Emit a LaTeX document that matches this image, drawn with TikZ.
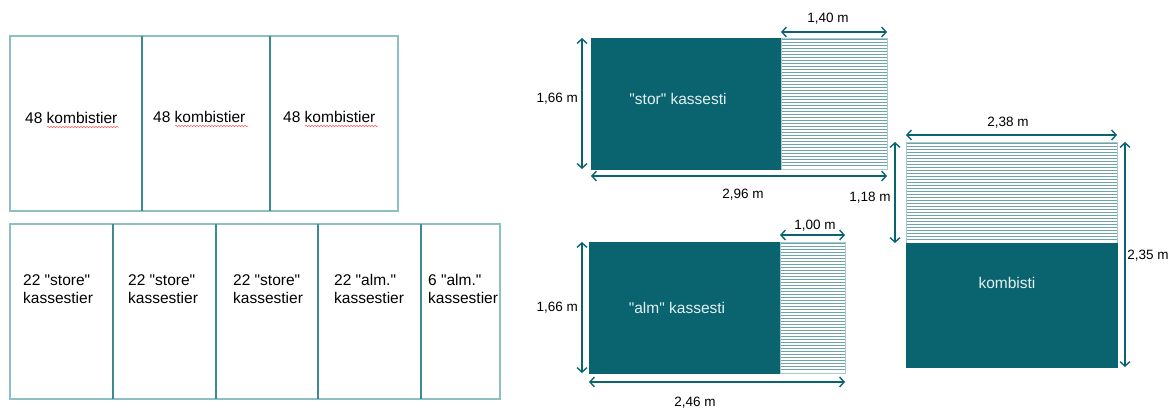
\documentclass[tikz,border=0pt]{standalone}
\usepackage{fontspec}
\setmainfont{Liberation Sans}[Ligatures=TeXOff]
\usetikzlibrary{arrows.meta,decorations.pathmorphing}
\definecolor{kasse}{HTML}{0A6470}
\definecolor{rammelys}{HTML}{8EBFC2}
\definecolor{rammemork}{HTML}{3E8A92}
\definecolor{streg}{HTML}{6FA3AA}
\definecolor{tekstlys}{HTML}{E4F0F1}

\tikzset{
  ramme/.style={draw=rammelys, line width=1.3pt},
  skille/.style={draw=rammemork, line width=1.3pt},
  boxtekst/.style={anchor=west, align=left, inner sep=0pt, font=\fontsize{15.5}{18}\selectfont},
  moerk/.style={fill=kasse, draw=kasse},
  moerktekst/.style={text=tekstlys, inner sep=0pt, font=\fontsize{15.5}{18}\selectfont},
  maal/.style={draw=kasse, line width=1.4pt, {Straight Barb[length=4.5pt,width=10pt]}-{Straight Barb[length=4.5pt,width=10pt]}},
  maaltekst/.style={inner sep=0pt, font=\fontsize{13.5}{16}\selectfont},
  stribe/.style={draw=streg, line width=0.9pt},
  squig/.style={draw=red!65, line width=0.5pt, decorate, decoration={snake, amplitude=0.7pt, segment length=3pt}}
}

\begin{document}
\begin{tikzpicture}[x=1pt,y=-1pt]
  \useasboundingbox (0,0) rectangle (1172,410);

  % kombistier, oeverste raekke
  \draw[ramme] (10,36) rectangle (398,211);
  \draw[skille] (142,36) -- (142,211);
  \draw[skille] (270,36) -- (270,211);
  \node[boxtekst] (kombi1) at (25,118) {48 kombistier};
  \node[boxtekst] (kombi2) at (153,117) {48 kombistier};
  \node[boxtekst] (kombi3) at (283,117) {48 kombistier};
  \draw[squig] (47,127) -- (119,127);
  \draw[squig] (175,126) -- (248,126);
  \draw[squig] (305,126) -- (378,126);

  % kassestier, nederste raekke
  \draw[ramme] (10,224) rectangle (500,399);
  \foreach \x in {113,216,318,421}
    \draw[skille] (\x,224) -- (\x,399);
  \node[boxtekst] (kasse1) at (23,289) {22 "store"\\kassestier};
  \node[boxtekst] (kasse2) at (128,289) {22 "store"\\kassestier};
  \node[boxtekst] (kasse3) at (233,289) {22 "store"\\kassestier};
  \node[boxtekst] (kasse4) at (334,289) {22 "alm."\\kassestier};
  \node[boxtekst] (kasse5) at (428,289) {6 "alm."\\kassestier};

  % "stor" kassesti
  \draw[moerk] (591,38) rectangle (781,169);
  \fill[white] (781,38) rectangle (887,169);
  \foreach \y in {39.5,42.5,...,168}
    \draw[stribe] (781,\y) -- (887,\y);
  \draw[draw=streg!60, line width=0.6pt] (781,38) rectangle (887,169);
  \node[moerktekst] (stor) at (678,99) {"stor" kassesti};
  \coordinate (s1) at (781,32);  \coordinate (s2) at (887,32);
  \coordinate (s3) at (582,38);  \coordinate (s4) at (582,169);
  \coordinate (s5) at (591,176); \coordinate (s6) at (887,176);
  \draw[maal] (s1) -- (s2);
  \draw[maal] (s3) -- (s4);
  \draw[maal] (s5) -- (s6);
  \node[maaltekst] (storb) at (828,19) {1,40 m};
  \node[maaltekst, anchor=east] (storh) at (578,99) {1,66 m};
  \node[maaltekst] (storl) at (743,195) {2,96 m};

  % "alm" kassesti
  \draw[moerk] (589,242) rectangle (780,373);
  \fill[white] (780,242) rectangle (845,373);
  \foreach \y in {243.5,246.5,...,372}
    \draw[stribe] (780,\y) -- (845,\y);
  \draw[draw=streg!60, line width=0.6pt] (780,242) rectangle (845,373);
  \node[moerktekst] (alm) at (677,308) {"alm" kassesti};
  \coordinate (a1) at (780,235); \coordinate (a2) at (845,235);
  \coordinate (a3) at (582,242); \coordinate (a4) at (582,373);
  \coordinate (a5) at (589,382); \coordinate (a6) at (845,382);
  \draw[maal] (a1) -- (a2);
  \draw[maal] (a3) -- (a4);
  \draw[maal] (a5) -- (a6);
  \node[maaltekst] (almb) at (815,226) {1,00 m};
  \node[maaltekst, anchor=east] (almh) at (578,308) {1,66 m};
  \node[maaltekst] (alml) at (695,403) {2,46 m};

  % kombisti
  \fill[white] (906,142) rectangle (1117,243);
  \foreach \y in {143.5,146.5,...,242}
    \draw[stribe] (906,\y) -- (1117,\y);
  \draw[draw=streg!60, line width=0.6pt] (906,142) rectangle (1117,243);
  \draw[moerk] (906,243) rectangle (1117,367);
  \node[moerktekst] (kombisti) at (1007,283) {kombisti};
  \coordinate (k1) at (906,135);  \coordinate (k2) at (1117,135);
  \coordinate (k3) at (895,142);  \coordinate (k4) at (895,243);
  \coordinate (k5) at (1125,142); \coordinate (k6) at (1125,367);
  \draw[maal] (k1) -- (k2);
  \draw[maal] (k3) -- (k4);
  \draw[maal] (k5) -- (k6);
  \node[maaltekst] (kombib) at (1008,123) {2,38 m};
  \node[maaltekst] (kombih) at (870,198) {1,18 m};
  \node[maaltekst] (kombil) at (1148,256) {2,35 m};
\end{tikzpicture}
\end{document}
